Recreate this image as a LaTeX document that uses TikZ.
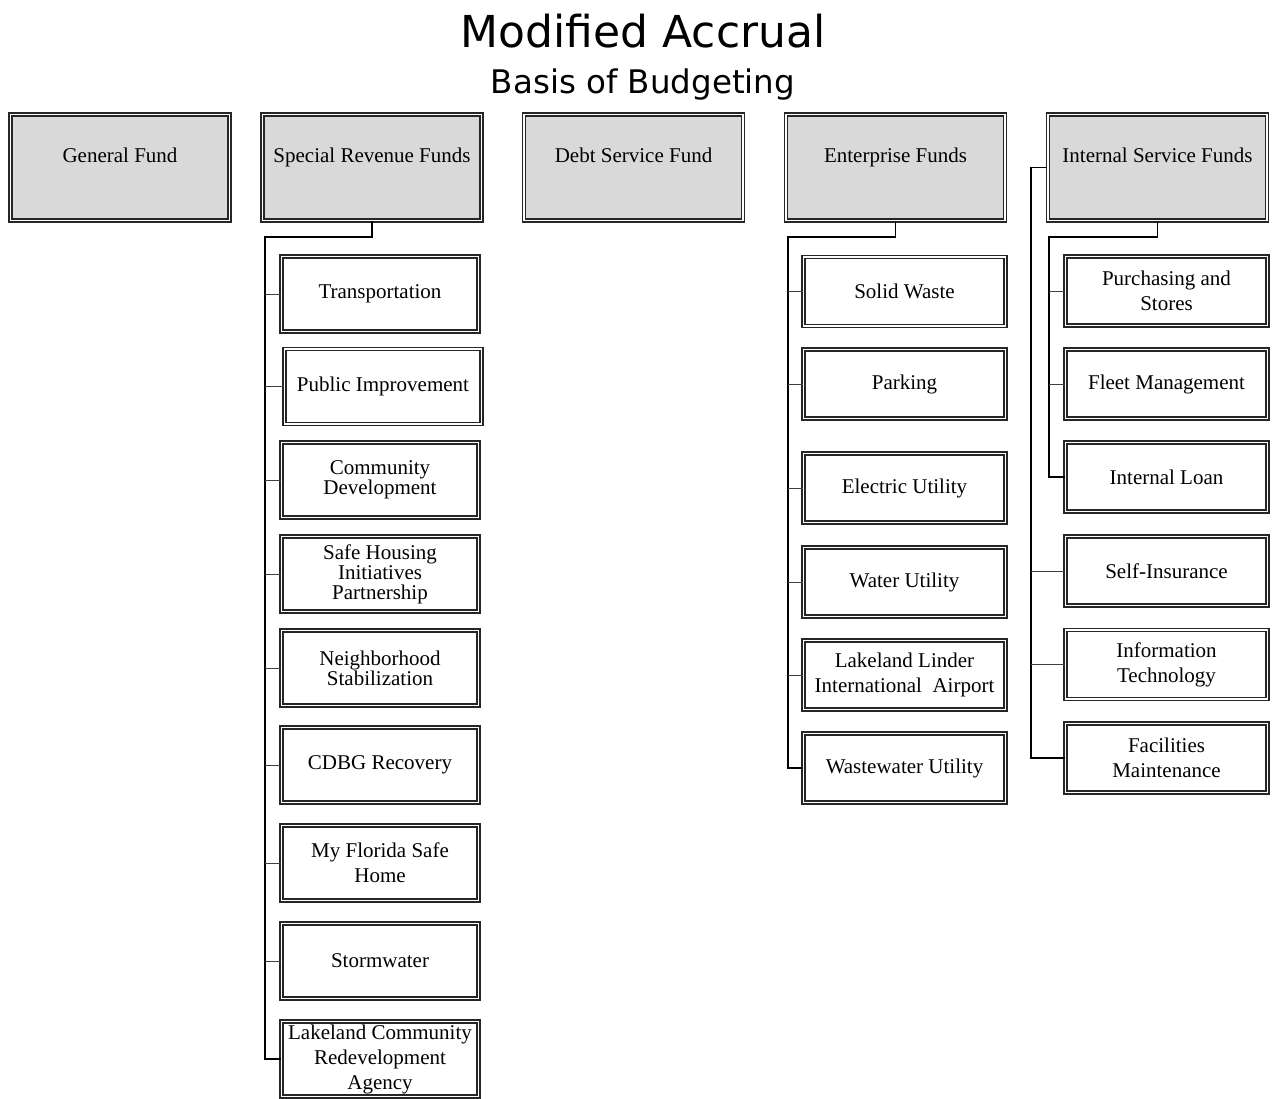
\documentclass[tikz,border=0pt]{standalone}
\usepackage{fontspec}
\setmainfont{Liberation Serif}
\newfontfamily\titlefont{DejaVu Sans}
\definecolor{boxgray}{HTML}{D9D9D9}
\begin{document}
\begin{tikzpicture}[x=1pt,y=-1pt,
  dblframe/.style={draw=black!85, line width=1.3pt, double=white, double distance=1.8pt,
    inner sep=0pt, align=center},
  fundbox/.style={dblframe, fill=boxgray, minimum width=219pt,
    text height=48pt, text depth=58pt, font=\fontsize{21}{25}\selectfont},
  srbox/.style={dblframe, minimum width=197pt, minimum height=75pt,
    font=\fontsize{21}{25}\selectfont},
  eibox/.style={dblframe, minimum width=202pt, minimum height=69pt,
    font=\fontsize{21}{25}\selectfont},
  tight/.style={font=\fontsize{21}{20}\selectfont},
  trunk/.style={draw=black, line width=1.3pt},
  branch/.style={draw=black!75, line width=0.8pt},
]
\useasboundingbox (0,0) rectangle (1273,1099);

% headings
\node[anchor=base, font=\titlefont\fontsize{44}{44}\selectfont] (title) at (643,48) {Modified Accrual};
\node[anchor=base, font=\titlefont\fontsize{32.5}{33}\selectfont] (subtitle) at (643,94) {Basis of Budgeting};

% fund types
\node[fundbox] (gen)  at (120,167.5)   {General Fund};
\node[fundbox] (sr)   at (372,167.5)   {Special Revenue Funds};
\node[fundbox] (debt) at (633.5,167.5) {Debt Service Fund};
\node[fundbox] (ent)  at (895.5,167.5) {Enterprise Funds};
\node[fundbox] (isf)  at (1157.5,167.5){Internal Service Funds};

% special revenue funds
\node[srbox] (sr1) at (380,294)   {Transportation};
\node[srbox] (sr2) at (383,386.5) {Public Improvement};
\node[srbox,tight] (sr3) at (380,480) {Community\\Development};
\node[srbox,tight] (sr4) at (380,574) {Safe Housing\\Initiatives\\Partnership};
\node[srbox,tight] (sr5) at (380,668) {Neighborhood\\Stabilization};
\node[srbox] (sr6) at (380,765)   {CDBG Recovery};
\node[srbox] (sr7) at (380,863)   {My Florida Safe\\Home};
\node[srbox] (sr8) at (380,961)   {Stormwater};
\node[srbox] (sr9) at (380,1059)  {Lakeland Community\\Redevelopment\\Agency};

% enterprise funds
\node[eibox] (en1) at (904.5,291.5) {Solid Waste};
\node[eibox] (en2) at (904.5,384)   {Parking};
\node[eibox] (en3) at (904.5,488)   {Electric Utility};
\node[eibox] (en4) at (904.5,582)   {Water Utility};
\node[eibox] (en5) at (904.5,675)   {Lakeland Linder\\International~ Airport};
\node[eibox] (en6) at (904.5,768)   {Wastewater Utility};

% internal service funds
\node[eibox] (is1) at (1166.5,291)   {Purchasing and\\Stores};
\node[eibox] (is2) at (1166.5,384)   {Fleet Management};
\node[eibox] (is3) at (1166.5,477)   {Internal Loan};
\node[eibox] (is4) at (1166.5,571)   {Self-Insurance};
\node[eibox] (is5) at (1166.5,664.5) {Information\\Technology};
\node[eibox] (is6) at (1166.5,758)   {Facilities\\Maintenance};

% bus lines
\coordinate (srbus) at (265,237);
\coordinate (enbus) at (788,237);
\coordinate (isbus) at (1049,237);
\coordinate (isside) at (1031,167.5);

\draw[trunk] (sr.south) |- (srbus) |- (sr9.west);
\foreach \n in {sr1,sr2,sr3,sr4,sr5,sr6,sr7,sr8}
  \draw[branch] (\n.west) -- (\n.west -| srbus);

\draw[trunk] (ent.south) |- (enbus) |- (en6.west);
\foreach \n in {en1,en2,en3,en4,en5}
  \draw[branch] (\n.west) -- (\n.west -| enbus);

\draw[trunk] (isf.south) |- (isbus) |- (is3.west);
\foreach \n in {is1,is2}
  \draw[branch] (\n.west) -- (\n.west -| isbus);

\draw[trunk] (isf.west) -- (isside) |- (is6.west);
\foreach \n in {is4,is5}
  \draw[branch] (\n.west) -- (\n.west -| isside);
\end{tikzpicture}
\end{document}
